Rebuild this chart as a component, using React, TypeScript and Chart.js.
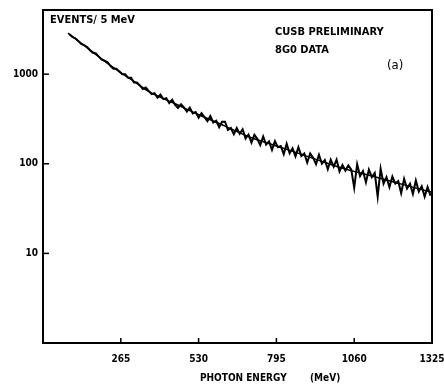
import { useEffect, useRef } from "react";
import { Chart, registerables } from "chart.js";
Chart.register(...registerables);

// Photon energy (MeV), 10 MeV bins
const energies: number[] = [
  90, 100, 110, 120, 130, 140, 150, 160, 170, 180, 190, 200, 210, 220, 230, 240,
  250, 260, 270, 280, 290, 300, 310, 320, 330, 340, 350, 360, 370, 380, 390, 400,
  410, 420, 430, 440, 450, 460, 470, 480, 490, 500, 510, 520, 530, 540, 550, 560,
  570, 580, 590, 600, 610, 620, 630, 640, 650, 660, 670, 680, 690, 700, 710, 720,
  730, 740, 750, 760, 770, 780, 790, 800, 810, 820, 830, 840, 850, 860, 870, 880,
  890, 900, 910, 920, 930, 940, 950, 960, 970, 980, 990, 1000, 1010, 1020, 1030, 1040,
  1050, 1060, 1070, 1080, 1090, 1100, 1110, 1120, 1130, 1140, 1150, 1160, 1170, 1180, 1190, 1200,
  1210, 1220, 1230, 1240, 1250, 1260, 1270, 1280, 1290, 1300, 1310, 1320,
];

// Events per bin (estimated from the plot)
const events: number[] = [
  2790, 2610, 2510, 2350, 2170, 2110, 2010, 1850, 1730, 1700, 1570, 1450, 1410, 1360, 1230, 1150,
  1150, 1070, 995, 995, 910, 910, 805, 805, 750, 683, 710, 650, 598, 614, 546, 590,
  526, 540, 476, 518, 453, 419, 462, 425, 383, 424, 365, 378, 327, 367, 331, 299,
  341, 288, 302, 256, 294, 295, 239, 251, 214, 251, 216, 243, 191, 212, 172, 210,
  190, 162, 202, 164, 178, 143, 179, 153, 158, 128, 167, 131, 149, 121, 153, 122,
  130, 103, 130, 117, 99, 126, 100, 110, 87, 111, 93, 111, 82, 97, 84, 96,
  86, 54, 99, 73, 83, 62, 86, 71, 79, 43, 88, 60, 71, 55, 72, 60,
  64, 47, 68, 53, 60, 46, 65, 49, 56, 43, 55, 44,
];

// Smooth fitted curve
const fitEnergies: number[] = [85, 150, 228, 300, 364, 450, 535, 620, 705, 780, 841, 930, 1012, 1080, 1148, 1240, 1325];
const fitValues: number[] = [2870, 1975, 1260, 873, 629, 467, 348, 263, 198, 164, 141, 112, 91, 79, 69, 57, 48];

const xTicks: number[] = [265, 530, 795, 1060, 1325];
const yTicks: number[] = [10, 100, 1000];

const FONT = '"Liberation Sans Narrow", "DejaVu Sans Condensed", "Arial Narrow", sans-serif';

const decor = {
  id: "decor",
  afterDraw(chart: any) {
    const { ctx, chartArea, scales } = chart;
    const { left, top, right, bottom } = chartArea;
    ctx.save();
    ctx.strokeStyle = "#000";
    ctx.lineWidth = 2;
    ctx.strokeRect(left, top, right - left, bottom - top);
    ctx.lineWidth = 1.5;
    for (const v of xTicks) {
      const px = scales.x.getPixelForValue(v);
      ctx.beginPath();
      ctx.moveTo(px, bottom);
      ctx.lineTo(px, bottom - 5);
      ctx.stroke();
    }
    for (const v of yTicks) {
      const py = scales.y.getPixelForValue(v);
      ctx.beginPath();
      ctx.moveTo(left, py);
      ctx.lineTo(left + 6, py);
      ctx.stroke();
    }
    ctx.fillStyle = "#000";
    ctx.textBaseline = "middle";
    ctx.textAlign = "left";
    ctx.font = `bold 11px ${FONT}`;
    ctx.fillText("EVENTS/ 5 MeV", left + 7, top + 10);
    ctx.fillText("CUSB PRELIMINARY", 275, 32);
    ctx.fillText("8G0 DATA", 275, 50);
    ctx.font = `13px ${FONT}`;
    ctx.fillText("(a)", 387, 66);
    ctx.font = `bold 10px ${FONT}`;
    ctx.fillText("PHOTON ENERGY", 200, 378);
    ctx.fillText("(MeV)", 310, 378);
    ctx.restore();
  },
};

export default function App() {
  const ref = useRef<HTMLCanvasElement | null>(null);
  useEffect(() => {
    if (!ref.current) return;
    const chart = new Chart(ref.current, {
      type: "line",
      data: {
        datasets: [
          {
            label: "data",
            data: energies.map((e, i) => ({ x: e, y: events[i] })),
            borderColor: "#000",
            borderWidth: 2,
            pointRadius: 0,
            tension: 0,
          },
          {
            label: "fit",
            data: fitEnergies.map((e, i) => ({ x: e, y: fitValues[i] })),
            borderColor: "#000",
            borderWidth: 1.5,
            pointRadius: 0,
            cubicInterpolationMode: "monotone",
          },
        ],
      },
      options: {
        animation: false,
        responsive: false,
        maintainAspectRatio: false,
        layout: { padding: { left: 0, top: 10, right: 12, bottom: 0 } },
        plugins: { legend: { display: false }, tooltip: { enabled: false } },
        scales: {
          x: {
            type: "linear",
            min: 0,
            max: 1325,
            afterBuildTicks: (s: any) => {
              s.ticks = xTicks.map((v) => ({ value: v }));
            },
            afterFit: (s: any) => {
              s.height = 41;
              s.paddingLeft = 0;
              s.paddingRight = 0;
            },
            grid: { display: false, drawTicks: false },
            border: { display: false },
            ticks: {
              color: "#000",
              padding: 10,
              maxRotation: 0,
              font: { family: FONT, size: 10, weight: "bold" },
              callback: (v: any) => String(v),
            },
          },
          y: {
            type: "logarithmic",
            min: 1,
            max: 5200,
            afterBuildTicks: (s: any) => {
              s.ticks = yTicks.map((v) => ({ value: v }));
            },
            afterFit: (s: any) => {
              s.width = 43;
              s.paddingTop = 0;
              s.paddingBottom = 0;
            },
            grid: { display: false, drawTicks: false },
            border: { display: false },
            ticks: {
              color: "#000",
              padding: 5,
              font: { family: FONT, size: 10, weight: "bold" },
              callback: (v: any) => String(v),
            },
          },
        },
      },
      plugins: [decor],
    });
    return () => chart.destroy();
  }, []);
  return (
    <div style={{ position: "absolute", left: 0, top: 0, width: 444, height: 384, background: "#fff" }}>
      <canvas ref={ref} width={444} height={384} style={{ width: 444, height: 384 }} />
    </div>
  );
}
